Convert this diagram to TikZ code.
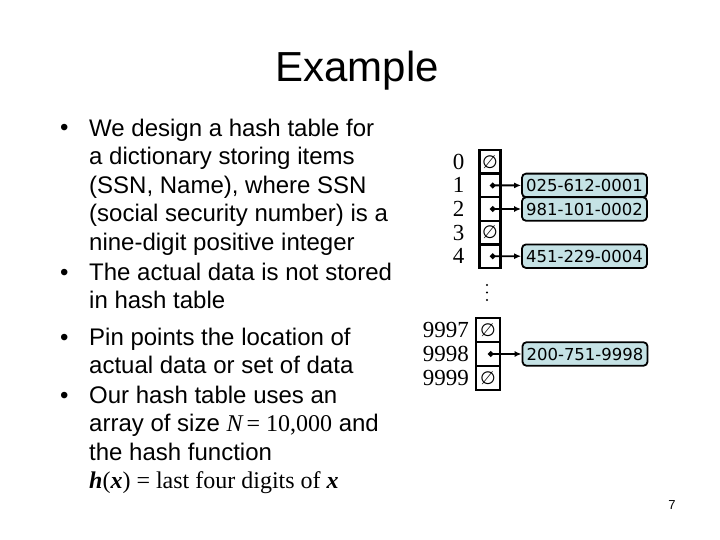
\documentclass[tikz,border=0pt]{standalone}
\usepackage{fontspec}
\setmainfont{Liberation Sans}
\newfontfamily\tnr{Liberation Serif}
\newfontfamily\recfont{DejaVu Sans}
\usetikzlibrary{positioning,arrows.meta}
\definecolor{recfill}{RGB}{197,226,229}

\tikzset{
  bullettext/.style={anchor=base west, align=left, inner sep=0pt,
    font=\fontsize{24}{28.6}\selectfont},
  cell/.style={draw, line width=2.4pt, minimum width=21pt, minimum height=23.6pt,
    inner sep=0pt, outer sep=0pt},
  idx/.style={font=\tnr\fontsize{23}{23}\selectfont, inner sep=0pt},
  record/.style={draw, line width=1.8pt, rounded corners=4pt, fill=recfill,
    minimum width=125pt, minimum height=23.5pt, inner sep=0pt,
    font=\recfont\fontsize{16.5}{16.5}\selectfont},
  ptr/.style={line width=1.8pt, {Circle[length=5.5pt]}-{Latex[length=7pt,width=6pt]}}
}
\newcommand{\nullsym}{{\recfont\fontsize{18}{18}\selectfont ∅}}

\begin{document}
\begin{tikzpicture}[x=1pt, y=-1pt]
  \useasboundingbox (0,0) rectangle (720,540);

  % Title
  \node[anchor=base, inner sep=0pt, font=\fontsize{42}{42}\selectfont] (title) at (357,82) {Example};

  % Bullet list (a node's base is the baseline of its last line)
  \foreach \y/\n in {136/m1, 280/m2, 345/m3, 403/m4}
    \node[bullettext] (\n) at (60,\y) {\textbullet};
  \node[bullettext] (b1) at (89,250.4) {We design a hash table for\\ a dictionary storing items\\
    (SSN, Name), where SSN\\ (social security number) is a\\ nine-digit positive integer};
  \node[bullettext] (b2) at (89,308.6) {The actual data is not stored\\ in hash table};
  \node[bullettext] (b3) at (89,373.6) {Pin points the location of\\ actual data or set of data};
  \node[bullettext] (b4) at (89,488.8) {Our hash table uses an\\
    array of size {\tnr\itshape N}\,{\tnr= 10,000} and\\ the hash function\\
    {\tnr{\bfseries\itshape h}({\bfseries\itshape x}) = last four digits of {\bfseries\itshape x}}};

  % Upper part of the table
  \foreach \i in {0,...,4}
    \node[cell] (c\i) at (490, 161.8+23.6*\i) {};
  \foreach \i in {0,...,4}
    \node[idx, left=15pt of c\i] (i\i) {\i};
  \node at (c0) {\nullsym};
  \node at (c3) {\nullsym};

  % Dots between the two parts
  \foreach \d in {285,292.5,300}
    \fill (487,\d) circle (1.1);

  % Lower part of the table
  \foreach \k/\v in {0/9997, 1/9998, 2/9999}
    \node[cell, minimum width=24pt, minimum height=24pt] (d\k) at (488, 330+24*\k) {};
  \foreach \k/\v in {0/9997, 1/9998, 2/9999}
    \node[idx, left=7pt of d\k] (j\k) {\v};
  \node at (d0) {\nullsym};
  \node at (d2) {\nullsym};

  % Records
  \node[record] (r1) at (584.5,185.4) {025-612-0001};
  \node[record] (r2) at (584.5,209) {981-101-0002};
  \node[record] (r4) at (584.5,256.2) {451-229-0004};
  \node[record] (r9) at (585,354) {200-751-9998};

  % Pointers
  \draw[ptr] (c1.center) -- (r1.west);
  \draw[ptr] (c2.center) -- (r2.west);
  \draw[ptr] (c4.center) -- (r4.west);
  \draw[ptr] (d1.center) -- (r9.west);

  % Page number
  \node[font=\fontsize{13}{13}\selectfont, inner sep=0pt] (page) at (672,505) {7};
\end{tikzpicture}
\end{document}
